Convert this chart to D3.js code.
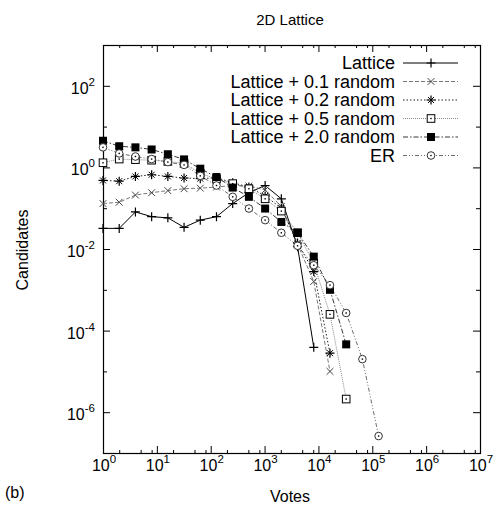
<!DOCTYPE html>
<html>
<head>
<meta charset="utf-8">
<script src="https://cdn.jsdelivr.net/npm/d3@7"></script>
<style>
  body { margin: 0; background: #fff; }
  text { font-family: "Liberation Sans", Arial, Helvetica, sans-serif; fill: #000; }
</style>
</head>
<body>
<div id="chart"></div>
<script>
// votes: x positions shared by every series (powers of two)
var votes = [1, 2, 4, 8, 16, 32, 64, 128, 256, 512, 1024, 2048, 4096, 8192, 16384, 32768, 65536, 131072];

// candidates per series
var lattice = [0.032, 0.032, 0.081, 0.062, 0.058, 0.034, 0.051, 0.062, 0.13, 0.24, 0.36, 0.17, 0.0114, 3.9e-5];
var rand01  = [0.13, 0.14, 0.21, 0.24, 0.27, 0.30, 0.31, 0.33, 0.36, 0.35, 0.28, 0.11, 0.013, 0.0016, 1.0e-5];
var rand02  = [0.48, 0.46, 0.60, 0.66, 0.60, 0.55, 0.53, 0.56, 0.42, 0.33, 0.20, 0.10, 0.014, 0.0028, 2.8e-5];
var rand05  = [1.3, 1.6, 1.55, 1.5, 1.4, 1.25, 0.72, 0.52, 0.40, 0.30, 0.17, 0.085, 0.025, 0.0045, 2.5e-4, 2.1e-6];
var rand20  = [4.5, 3.3, 3.1, 2.75, 2.1, 1.57, 0.93, 0.58, 0.32, 0.19, 0.098, 0.046, 0.025, 0.0065, 0.001, 4.6e-5];
var er      = [3.1, 2.2, 1.85, 1.6, 1.35, 1.15, 0.62, 0.36, 0.19, 0.098, 0.051, 0.025, 0.012, 0.004, 0.0013, 2.7e-4, 2.0e-5, 2.6e-7];

var seriesNames = ['Lattice', 'Lattice + 0.1 random', 'Lattice + 0.2 random',
  'Lattice + 0.5 random', 'Lattice + 2.0 random', 'ER'];
var seriesValues = [lattice, rand01, rand02, rand05, rand20, er];

// tick exponents
var xMajorExp = [0, 1, 2, 3, 4, 5, 6, 7];
var xMinorMant = [2, 5, 8];
var yMajorExp = [-6, -4, -2, 0, 2];
var yMinorExp = [-5, -3, -1, 1];

var w = 496,
  h = 508,
  pLeft = 103,
  pRight = 480,
  pTop = 45,
  pBottom = 453;

// line / marker styles per series
var styles = [
  { dash: null, width: 1, color: '#000', mark: 'plus' },
  { dash: '4,2', width: 0.8, color: '#555', mark: 'cross' },
  { dash: '1.5,2', width: 1, color: '#222', mark: 'star' },
  { dash: '1,1', width: 0.7, color: '#555', mark: 'box' },
  { dash: '5,2,1.5,2', width: 0.9, color: '#222', mark: 'fbox' },
  { dash: '4,2,1,2,1,2', width: 0.8, color: '#444', mark: 'circle' }
];

var x = d3.scaleLog().domain([1, 1e7]).range([pLeft, pRight]);
var y = d3.scaleLog().domain([1e-7, 1e3]).range([pBottom, pTop]);

var svg = d3.select('#chart')
  .append('svg')
  .attr('width', w)
  .attr('height', h);

// ---- axes (ticks mirrored, pointing inward)
var xMajor = xMajorExp.map(function(e) { return Math.pow(10, e); });
var xMinor = [];
xMajorExp.slice(0, -1).forEach(function(e) {
  xMinorMant.forEach(function(m) { xMinor.push(m * Math.pow(10, e)); });
});
var yMajor = yMajorExp.map(function(e) { return Math.pow(10, e); });
var yMinor = yMinorExp.map(function(e) { return Math.pow(10, e); });

function noDomain(g) {
  g.select('.domain').remove();
  g.selectAll('line').attr('stroke', '#000');
}

function addAxis(gen, tf) {
  svg.append('g').attr('transform', tf).call(gen).call(noDomain);
}

addAxis(d3.axisBottom(x).tickValues(xMajor).tickSize(-7).tickFormat(''), 'translate(0,' + pBottom + ')');
addAxis(d3.axisBottom(x).tickValues(xMinor).tickSize(-3).tickFormat(''), 'translate(0,' + pBottom + ')');
addAxis(d3.axisTop(x).tickValues(xMajor).tickSize(-7).tickFormat(''), 'translate(0,' + pTop + ')');
addAxis(d3.axisTop(x).tickValues(xMinor).tickSize(-3).tickFormat(''), 'translate(0,' + pTop + ')');
addAxis(d3.axisLeft(y).tickValues(yMajor).tickSize(-7).tickFormat(''), 'translate(' + pLeft + ',0)');
addAxis(d3.axisLeft(y).tickValues(yMinor).tickSize(-4).tickFormat(''), 'translate(' + pLeft + ',0)');
addAxis(d3.axisRight(y).tickValues(yMajor).tickSize(-7).tickFormat(''), 'translate(' + pRight + ',0)');
addAxis(d3.axisRight(y).tickValues(yMinor).tickSize(-4).tickFormat(''), 'translate(' + pRight + ',0)');

svg.append('rect')
  .attr('x', pLeft + 0.5)
  .attr('y', pTop + 0.5)
  .attr('width', pRight - pLeft)
  .attr('height', pBottom - pTop)
  .attr('fill', 'none')
  .attr('stroke', '#000')
  .attr('stroke-width', 1.2);

// tick labels "10^e"
function powLabel(sel, e) {
  sel.append('tspan').text('10');
  sel.append('tspan')
    .attr('dy', -8)
    .attr('font-size', 11.5)
    .text(String(e));
}

xMajorExp.forEach(function(e) {
  svg.append('text')
    .attr('x', x(Math.pow(10, e)) + 1)
    .attr('y', 471)
    .attr('text-anchor', 'middle')
    .attr('font-size', 16)
    .call(powLabel, e);
});

yMajorExp.forEach(function(e) {
  svg.append('text')
    .attr('x', 95)
    .attr('y', y(Math.pow(10, e)) + 8)
    .attr('text-anchor', 'end')
    .attr('font-size', 16)
    .call(powLabel, e);
});

// titles
svg.append('text').attr('x', 290).attr('y', 25).attr('text-anchor', 'middle')
  .attr('font-size', 15).text('2D Lattice');
svg.append('text').attr('x', 290).attr('y', 502).attr('text-anchor', 'middle')
  .attr('font-size', 16).text('Votes');
svg.append('text').attr('transform', 'translate(28,250) rotate(-90)').attr('text-anchor', 'middle')
  .attr('font-size', 16).text('Candidates');
svg.append('text').attr('x', 5).attr('y', 498).attr('font-size', 16).text('(b)');

// ---- markers
function drawMark(g, type, cx, cy) {
  var s = 4.5;
  if (type === 'plus' || type === 'star') {
    g.append('path')
      .attr('d', 'M' + (cx - s) + ',' + cy + 'H' + (cx + s) + 'M' + cx + ',' + (cy - s) + 'V' + (cy + s))
      .attr('stroke', '#000').attr('stroke-width', 1.2);
  }
  if (type === 'cross' || type === 'star') {
    var c = type === 'star' ? 3 : 3.4;
    g.append('path')
      .attr('d', 'M' + (cx - c) + ',' + (cy - c) + 'L' + (cx + c) + ',' + (cy + c) +
        'M' + (cx - c) + ',' + (cy + c) + 'L' + (cx + c) + ',' + (cy - c))
      .attr('stroke', type === 'star' ? '#000' : '#444').attr('stroke-width', 1);
  }
  if (type === 'box') {
    g.append('rect').attr('x', cx - 3.8).attr('y', cy - 3.8).attr('width', 7.6).attr('height', 7.6)
      .attr('fill', '#fff').attr('stroke', '#000').attr('stroke-width', 1);
  }
  if (type === 'fbox') {
    g.append('rect').attr('x', cx - 4).attr('y', cy - 4).attr('width', 8).attr('height', 8)
      .attr('fill', '#000');
  }
  if (type === 'circle') {
    g.append('circle').attr('cx', cx).attr('cy', cy).attr('r', 3.8)
      .attr('fill', '#fff').attr('stroke', '#333').attr('stroke-width', 1);
  }
  if (type === 'box' || type === 'circle') {
    g.append('rect').attr('x', cx - 0.7).attr('y', cy - 0.7).attr('width', 1.4).attr('height', 1.4)
      .attr('fill', '#000');
  }
}

var line = d3.line()
  .x(function(d) { return x(d[0]); })
  .y(function(d) { return y(d[1]); });

var plot = svg.append('g');

seriesValues.forEach(function(vals, i) {
  var pts = vals.map(function(v, k) { return [votes[k], v]; });
  var st = styles[i];
  plot.append('path')
    .datum(pts)
    .attr('d', line)
    .attr('fill', 'none')
    .attr('stroke', st.color)
    .attr('stroke-width', st.width)
    .attr('stroke-dasharray', st.dash);
});

seriesValues.forEach(function(vals, i) {
  var g = plot.append('g');
  vals.forEach(function(v, k) {
    drawMark(g, styles[i].mark, x(votes[k]), y(v));
  });
});

// ---- legend
var legend = svg.append('g');
seriesNames.forEach(function(name, i) {
  var ly = 63 + i * 18.5;
  var st = styles[i];
  legend.append('text')
    .attr('x', 395)
    .attr('y', ly + 6)
    .attr('text-anchor', 'end')
    .attr('font-size', 18)
    .text(name);
  legend.append('line')
    .attr('x1', 403).attr('x2', 458)
    .attr('y1', ly).attr('y2', ly)
    .attr('stroke', st.color)
    .attr('stroke-width', st.width)
    .attr('stroke-dasharray', st.dash);
  drawMark(legend, st.mark, 431, ly);
});
</script>
</body>
</html>
